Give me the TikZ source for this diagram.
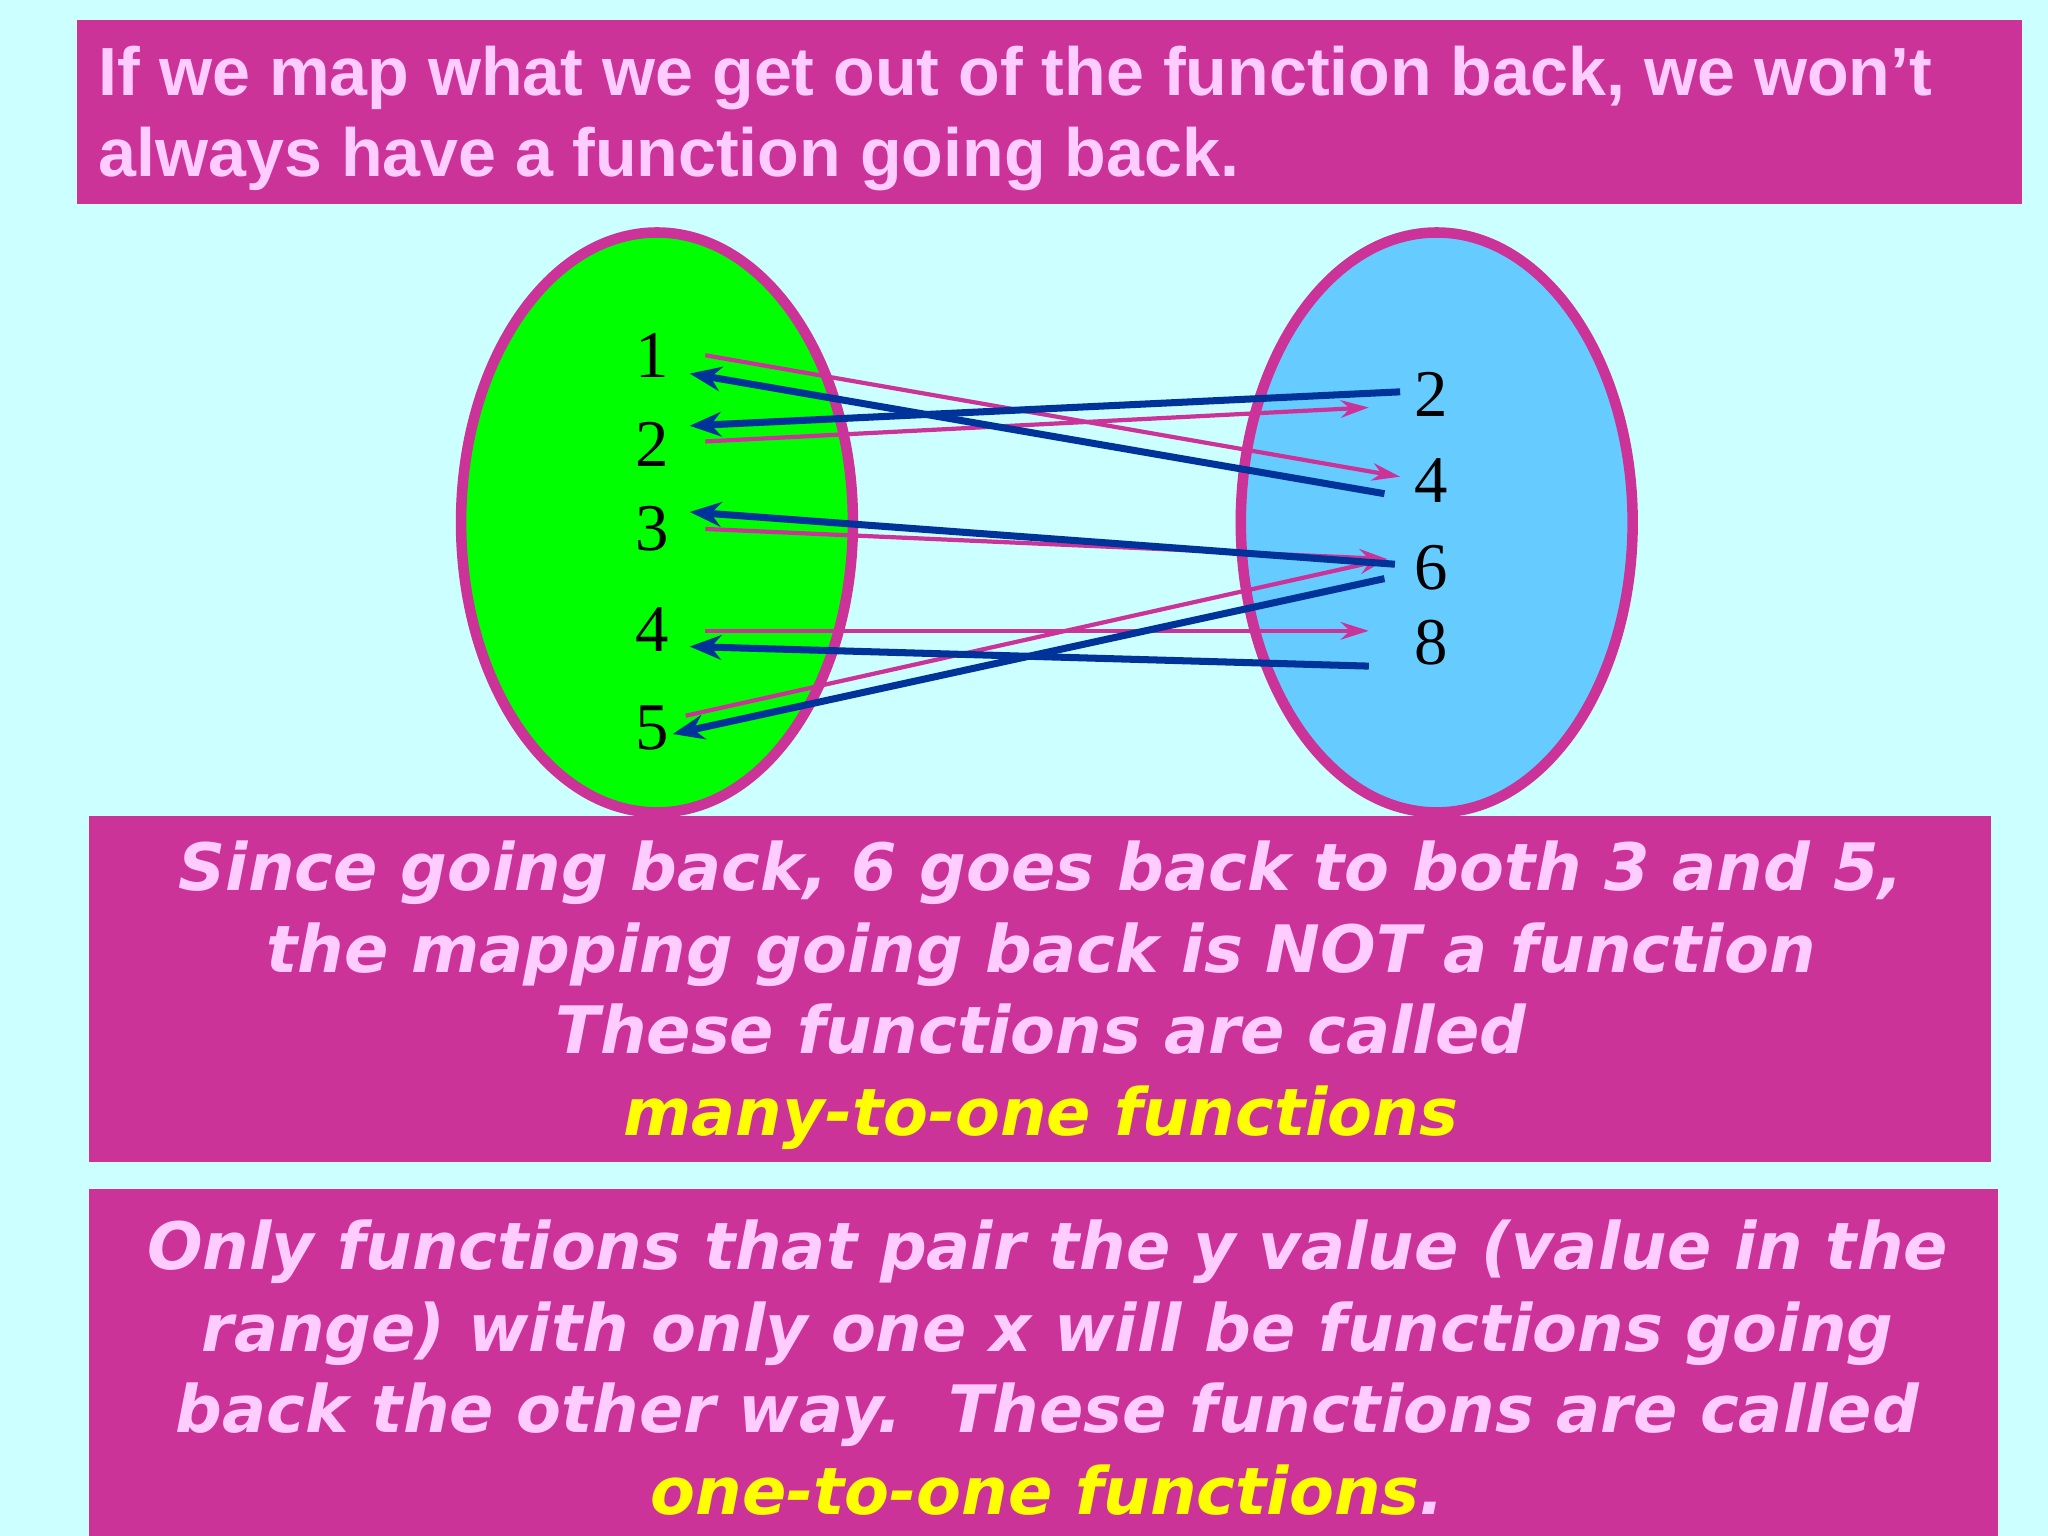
\documentclass[tikz,border=0pt]{standalone}
\usepackage{fontspec}
\setmainfont{Liberation Serif}
\newfontfamily\hsans{Liberation Sans}
\newfontfamily\vit{DejaVu Sans}
\usetikzlibrary{arrows.meta}
\definecolor{bg}{HTML}{CCFFFF}
\definecolor{mag}{HTML}{CC3399}
\definecolor{pk}{HTML}{FFCCFF}
\definecolor{yl}{HTML}{FFFF00}
\definecolor{gr}{HTML}{00FF00}
\definecolor{bl}{HTML}{66CCFF}
\definecolor{nv}{HTML}{003399}
\tikzset{
 box/.style={fill=mag,draw=none},
 num/.style={font=\fontsize{19}{19}\selectfont},
 fwd/.style={mag,line width=1.2pt,-{Stealth[length=8pt,width=5pt]}},
 bwd/.style={nv,line width=2pt,-{Stealth[length=9pt,width=7pt]}},
 msg/.style={text=pk,align=center,font=\vit\bfseries\itshape\fontsize{18.6}{23.2}\selectfont}
}
\begin{document}
\begin{tikzpicture}[x=0.013061cm,y=-0.013061cm]
\fill[bg] (0,0) rectangle (1568,1176);
\useasboundingbox (0,0) rectangle (1568,1176);
\fill[box] (59,15) rectangle (1548,156);
\node[anchor=north west,text=pk,align=left,font=\hsans\bfseries\fontsize{19.4}{23}\selectfont] (t) at (66,26) {If we map what we get out of the function back, we won’t\\always have a function going back.};
\draw[mag,line width=3pt,fill=gr] (503,400) ellipse [x radius=150,y radius=222];
\draw[mag,line width=3pt,fill=bl] (1100,400) ellipse [x radius=150,y radius=222];
\node[num] (a1) at (499,272) {1};
\node[num] (a2) at (499,340) {2};
\node[num] (a3) at (499,405) {3};
\node[num] (a4) at (499,482) {4};
\node[num] (a5) at (499,557) {5};
\node[num] (b2) at (1096,302) {2};
\node[num] (b4) at (1096,368) {4};
\node[num] (b6) at (1096,435) {6};
\node[num] (b8) at (1096,492) {8};
\coordinate (l1) at (540,272); \coordinate (l2) at (540,338); \coordinate (l3) at (540,405);
\coordinate (l4) at (540,483); \coordinate (l5) at (525,548);
\coordinate (r4) at (1072,365); \coordinate (r2) at (1048,312); \coordinate (r6) at (1062,428); \coordinate (r8) at (1048,483);
\draw[fwd] (l1) -- (r4);
\draw[fwd] (l2) -- (r2);
\draw[fwd] (l3) -- (r6);
\draw[fwd] (l4) -- (r8);
\draw[fwd] (l5) -- (r6);
\coordinate (s2) at (1072,300); \coordinate (s4) at (1060,378); \coordinate (s6) at (1068,432); \coordinate (s8) at (1048,510); \coordinate (s6b) at (1060,443);
\coordinate (e2) at (528,326); \coordinate (e1) at (528,286); \coordinate (e3) at (528,392); \coordinate (e4) at (528,495); \coordinate (e5) at (515,562);
\draw[bwd] (s2) -- (e2);
\draw[bwd] (s4) -- (e1);
\draw[bwd] (s6) -- (e3);
\draw[bwd] (s8) -- (e4);
\draw[bwd] (s6b) -- (e5);
\fill[box] (68,625) rectangle (1524,890);
\node[msg] (m1) at (797,762) {Since going back, 6 goes back to both 3 and 5,\\the mapping going back is NOT a function\\These functions are called\\\textcolor{yl}{many-to-one functions}};
\fill[box] (68,910) rectangle (1530,1176);
\node[msg] (m2) at (802,1047) {Only functions that pair the y value (value in the\\range) with only one x will be functions going\\back the other way.\ \ These functions are called\\\textcolor{yl}{one-to-one functions}.};
\end{tikzpicture}
\end{document}
